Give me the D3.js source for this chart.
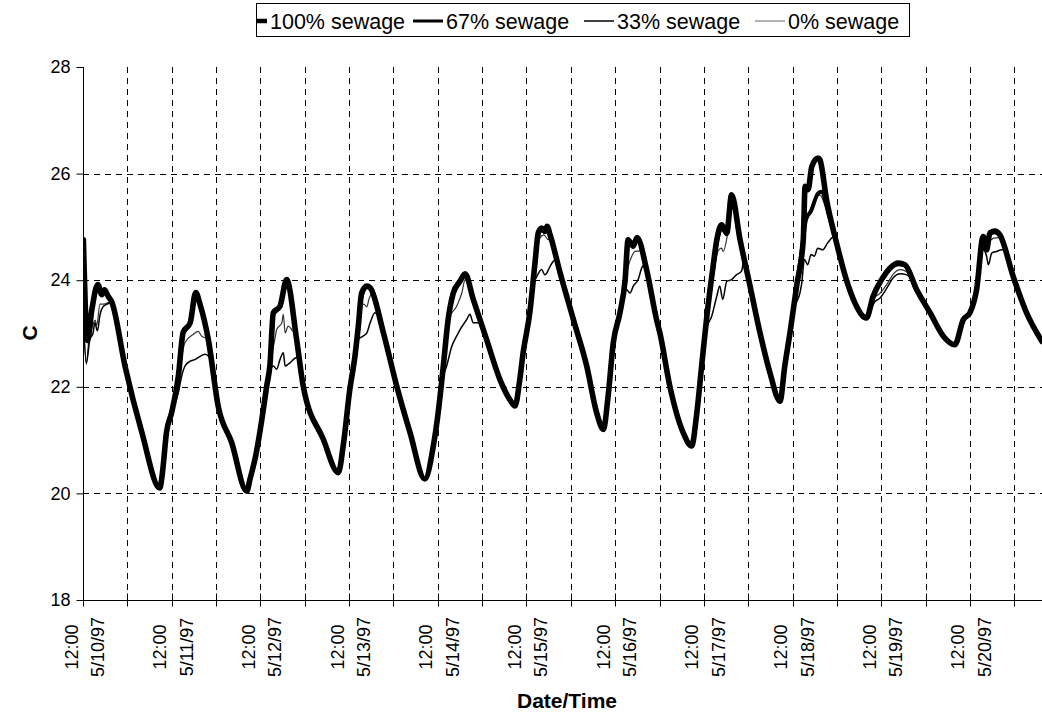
<!DOCTYPE html>
<html>
<head>
<meta charset="utf-8">
<script src="https://cdn.jsdelivr.net/npm/d3@7"></script>
<style>
  body { margin: 0; background: #fff; }
  text { font-family: "Liberation Sans", Arial, sans-serif; fill: #000; }
</style>
</head>
<body>
<svg id="chart" width="1042" height="715"></svg>
<script>
// Water temperature (C) at four sewage mixes, hours after 5/10/97 12:00.
const seriesNames = ["100% sewage", "67% sewage", "33% sewage", "0% sewage"];

const sewage100 = [[0.1,24.76],[1.2,22.87],[2.4,23.45],[4.0,23.92],[5.1,23.73],[5.8,23.82],[6.8,23.70],[7.8,23.59],[11.4,22.38],[15.9,21.15],[20.8,20.10],[21.5,20.39],[22.6,21.15],[24.0,21.52],[25.8,22.20],[27.1,23.02],[29.0,23.20],[30.5,23.77],[31.7,23.54],[33.9,22.89],[36.6,21.63],[40.2,20.96],[44.3,20.04],[45.2,20.27],[46.8,20.73],[48.4,21.39],[49.7,22.01],[50.6,22.42],[51.5,23.39],[53.3,23.51],[55.1,24.01],[57.8,22.89],[59.6,22.01],[65.0,21.02],[69.1,20.39],[70.4,20.89],[72.2,21.95],[73.6,22.58],[74.5,23.14],[75.4,23.76],[76.8,23.89],[77.7,23.86],[81.3,23.01],[84.9,22.01],[88.5,21.14],[92.5,20.27],[94.8,20.89],[96.1,21.51],[97.5,22.39],[98.8,23.26],[100.2,23.76],[102.0,23.98],[103.4,24.12],[105.6,23.64],[109.2,22.89],[112.8,22.14],[115.5,21.76],[116.9,21.64],[118.2,22.14],[119.1,22.64],[120.9,23.39],[122.3,24.32],[123.2,24.89],[124.1,24.98],[125.0,24.92],[125.6,25.01],[126.4,24.85],[129.1,24.14],[132.7,23.26],[136.3,22.39],[139.0,21.51],[140.8,21.20],[142.1,21.83],[143.5,22.83],[145.3,23.39],[146.7,24.01],[147.5,24.76],[148.9,24.64],[149.9,24.80],[152.5,24.20],[155.2,23.26],[156.1,23.01],[158.8,22.01],[162.4,21.14],[164.7,20.89],[166.0,21.45],[167.4,22.39],[168.8,23.32],[170.5,24.26],[171.5,24.76],[172.8,25.04],[174.2,24.89],[175.5,25.60],[177.8,24.76],[180.5,23.89],[183.2,23.01],[185.9,22.26],[188.6,21.73],[189.9,22.39],[191.3,23.01],[193.1,23.89],[194.9,24.76],[195.4,25.76],[196.2,25.70],[197.2,26.13],[198.9,26.29],[199.4,26.26],[201.2,25.51],[203.9,24.70],[206.6,24.00],[208.9,23.57],[212.0,23.29],[213.8,23.70],[216.1,24.01],[218.4,24.23],[220.6,24.32],[222.4,24.29],[225.6,23.82],[229.2,23.39],[232.8,22.95],[235.9,22.79],[238.2,23.26],[240.0,23.39],[241.8,23.82],[243.6,24.82],[244.5,24.57],[245.4,24.89],[246.8,24.92],[248.1,24.85],[251.7,24.07],[255.3,23.39],[259.5,22.85]];

const sewage67 = [[0.1,23.40],[1.2,22.87],[2.4,23.45],[4.0,23.90],[5.1,23.73],[5.8,23.80],[6.8,23.70],[7.8,23.59],[11.4,22.38],[15.9,21.15],[20.8,20.10],[21.5,20.39],[22.6,21.15],[24.0,21.52],[25.8,22.20],[27.1,23.02],[29.0,23.20],[30.5,23.75],[31.7,23.54],[33.9,22.89],[36.6,21.63],[40.2,20.96],[44.3,20.04],[45.2,20.27],[46.8,20.73],[48.4,21.39],[49.7,22.01],[50.6,22.42],[51.5,23.35],[53.3,23.51],[55.1,24.00],[57.8,22.89],[59.6,22.01],[65.0,21.02],[69.1,20.39],[70.4,20.89],[72.2,21.95],[73.6,22.58],[74.5,23.14],[75.4,23.70],[76.8,23.87],[77.7,23.86],[81.3,23.01],[84.9,22.01],[88.5,21.14],[92.5,20.27],[94.8,20.89],[96.1,21.51],[97.5,22.39],[98.8,23.26],[100.2,23.74],[102.0,23.96],[103.4,24.10],[105.6,23.64],[109.2,22.89],[112.8,22.14],[115.5,21.76],[116.9,21.64],[118.2,22.14],[119.1,22.64],[120.9,23.39],[122.3,24.30],[123.2,24.85],[124.1,24.95],[125.0,24.90],[125.6,24.98],[126.4,24.85],[129.1,24.14],[132.7,23.26],[136.3,22.39],[139.0,21.51],[140.8,21.20],[142.1,21.83],[143.5,22.83],[145.3,23.39],[146.7,24.01],[147.5,24.72],[148.9,24.64],[149.9,24.78],[152.5,24.20],[155.2,23.26],[156.1,23.01],[158.8,22.01],[162.4,21.14],[164.7,20.89],[166.0,21.45],[167.4,22.39],[168.8,23.32],[170.5,24.22],[171.5,24.70],[172.8,24.98],[174.2,24.86],[175.5,25.55],[177.8,24.76],[180.5,23.89],[183.2,23.01],[185.9,22.26],[188.6,21.73],[189.9,22.39],[191.3,23.01],[193.1,23.89],[194.9,24.76],[195.6,25.13],[197.0,25.30],[198.9,25.63],[199.8,25.66],[201.9,25.20],[203.9,24.70],[206.6,24.00],[208.9,23.57],[212.0,23.29],[213.8,23.70],[216.1,24.01],[218.4,24.23],[220.6,24.30],[222.4,24.29],[225.6,23.82],[229.2,23.39],[232.8,22.95],[235.9,22.79],[238.2,23.26],[240.0,23.39],[241.8,23.82],[243.6,24.80],[244.5,24.57],[245.4,24.87],[246.8,24.90],[248.1,24.85],[251.7,24.07],[255.3,23.39],[259.5,22.85]];

const sewage33 = [[0.1,23.30],[0.9,22.45],[1.9,22.90],[2.7,23.00],[3.2,23.20],[3.9,23.05],[4.6,23.35],[5.4,23.50],[6.5,23.55],[7.7,23.58],[11.4,22.38],[15.9,21.15],[20.8,20.10],[21.5,20.39],[22.6,21.15],[24.0,21.52],[25.8,21.89],[26.7,22.20],[27.6,22.39],[29.0,22.48],[30.3,22.51],[31.7,22.57],[33.0,22.61],[34.6,22.50],[36.6,21.63],[40.2,20.96],[44.3,20.04],[45.2,20.27],[46.8,20.73],[48.4,21.39],[49.7,22.01],[51.5,22.39],[52.4,22.33],[53.3,22.51],[54.2,22.64],[54.7,22.39],[56.0,22.45],[57.8,22.55],[58.7,22.45],[59.6,22.01],[65.0,21.02],[69.1,20.39],[70.4,20.89],[72.2,21.95],[73.6,22.58],[74.5,22.89],[75.8,22.95],[76.8,23.01],[77.7,23.20],[79.0,23.39],[79.8,23.35],[81.3,23.01],[84.9,22.01],[88.5,21.14],[92.5,20.27],[94.8,20.89],[96.1,21.51],[97.5,22.20],[98.4,22.39],[99.8,22.76],[101.1,22.95],[102.0,23.07],[103.8,23.26],[104.7,23.36],[105.6,23.20],[107.4,23.20],[108.8,23.00],[109.2,22.89],[112.8,22.14],[115.5,21.76],[116.9,21.64],[118.2,22.14],[119.1,22.64],[120.9,23.39],[121.4,23.82],[122.8,24.07],[124.1,24.20],[125.0,24.10],[126.4,24.26],[127.2,24.35],[128.0,24.40],[129.1,24.14],[132.7,23.26],[136.3,22.39],[139.0,21.51],[140.8,21.20],[142.1,21.83],[143.5,22.83],[145.3,23.39],[147.1,23.82],[148.0,23.76],[148.9,23.89],[150.2,24.01],[151.2,24.23],[152.1,24.30],[152.5,24.20],[155.2,23.26],[156.1,23.01],[158.8,22.01],[162.4,21.14],[164.7,20.89],[166.0,21.45],[167.4,22.39],[168.8,23.10],[170.1,23.32],[171.5,23.70],[172.3,23.89],[173.1,23.64],[174.2,23.98],[175.5,24.01],[176.8,24.10],[178.2,24.17],[178.8,24.35],[180.5,23.89],[183.2,23.01],[185.9,22.26],[188.6,21.73],[189.9,22.39],[191.3,23.01],[192.6,23.50],[194.0,23.76],[194.5,23.95],[195.2,24.39],[196.1,24.29],[197.0,24.48],[197.9,24.45],[198.8,24.60],[200.2,24.57],[201.5,24.70],[203.3,24.82],[203.9,24.70],[206.6,24.00],[208.9,23.57],[212.0,23.29],[214.3,23.60],[215.6,23.66],[217.5,23.85],[219.3,24.05],[221.1,24.12],[222.9,24.10],[224.3,24.00],[225.6,23.82],[229.2,23.39],[232.8,22.95],[235.9,22.79],[238.2,23.26],[240.0,23.39],[241.8,23.82],[243.6,24.57],[244.5,24.45],[245.0,24.29],[245.9,24.51],[247.2,24.54],[248.6,24.57],[249.5,24.55],[251.7,24.07],[255.3,23.39],[259.5,22.85]];

const sewage0 = [[0.1,23.30],[0.9,22.42],[1.6,22.90],[2.4,23.10],[3.3,23.25],[3.7,23.15],[4.6,23.55],[5.7,23.55],[6.8,23.58],[7.8,23.59],[11.4,22.38],[15.9,21.15],[20.8,20.10],[21.5,20.39],[22.6,21.15],[24.0,21.52],[25.8,22.20],[27.6,22.83],[29.8,22.98],[31.2,23.04],[32.1,22.95],[33.9,22.89],[36.6,21.63],[40.2,20.96],[44.3,20.04],[45.2,20.27],[46.8,20.73],[48.4,21.39],[49.7,22.01],[50.6,22.42],[51.9,22.89],[52.4,23.07],[53.8,23.20],[54.2,23.36],[54.7,23.01],[55.5,23.14],[56.5,23.07],[57.6,22.95],[59.6,22.01],[65.0,21.02],[69.1,20.39],[70.4,20.89],[72.2,21.95],[73.6,22.58],[74.5,23.14],[74.9,23.40],[76.0,23.55],[76.8,23.50],[77.4,23.65],[78.2,23.75],[81.3,23.01],[84.9,22.01],[88.5,21.14],[92.5,20.27],[94.8,20.89],[96.1,21.51],[97.5,22.39],[98.8,23.26],[101.1,23.51],[102.5,23.76],[103.4,24.01],[105.6,23.64],[109.2,22.89],[112.8,22.14],[115.5,21.76],[116.9,21.64],[118.2,22.14],[119.1,22.64],[120.9,23.39],[122.3,24.32],[123.6,24.79],[124.7,24.85],[125.9,24.76],[126.4,24.80],[129.1,24.14],[132.7,23.26],[136.3,22.39],[139.0,21.51],[140.8,21.20],[142.1,21.83],[143.5,22.83],[145.3,23.39],[146.7,24.01],[148.5,24.45],[149.4,24.54],[150.9,24.55],[152.5,24.20],[155.2,23.26],[156.1,23.01],[158.8,22.01],[162.4,21.14],[164.7,20.89],[166.0,21.45],[167.4,22.39],[168.8,23.32],[170.5,24.10],[172.0,24.57],[172.8,24.60],[173.2,24.54],[174.5,24.90],[175.5,25.40],[176.4,25.25],[177.8,24.76],[180.5,23.89],[183.2,23.01],[185.9,22.26],[188.6,21.73],[189.9,22.39],[191.3,23.01],[193.1,23.89],[194.9,24.76],[195.8,25.10],[197.6,25.45],[199.4,25.60],[200.8,25.40],[202.1,25.15],[203.9,24.70],[206.6,24.00],[208.9,23.57],[212.0,23.29],[213.8,23.65],[215.6,23.75],[217.5,23.92],[219.3,24.12],[221.1,24.20],[222.9,24.16],[224.3,24.00],[225.6,23.82],[229.2,23.39],[232.8,22.95],[235.9,22.79],[238.2,23.26],[240.0,23.39],[241.8,23.82],[243.6,24.70],[244.5,24.70],[246.4,24.79],[248.1,24.80],[251.7,24.07],[255.3,23.39],[259.5,22.85]];

const yTicks = [18, 20, 22, 24, 26, 28];
const dayLabels = ["5/10/97", "5/11/97", "5/12/97", "5/13/97", "5/14/97", "5/15/97",
                   "5/16/97", "5/17/97", "5/18/97", "5/19/97", "5/20/97"];
const timeLabel = "12:00";

// Layout
const plot = { left: 83, right: 1042, top: 67, bottom: 600 };

const svg = d3.select("#chart");

const x = d3.scaleLinear().domain([0, 259.5]).range([plot.left, plot.right]);
const y = d3.scaleLinear().domain([18, 28]).range([plot.bottom, plot.top]);

const halfDayTicks = d3.range(0, 259.5, 12);

// Dashed gridlines
const grid = svg.append("g");
grid.selectAll("line.v").data(halfDayTicks.filter(h => h > 0)).join("line")
  .attr("x1", d => Math.round(x(d)) + 0.5).attr("x2", d => Math.round(x(d)) + 0.5)
  .attr("y1", plot.top).attr("y2", plot.bottom)
  .attr("stroke", "#000").attr("stroke-width", 1).attr("stroke-dasharray", "6,5");
grid.selectAll("line.h").data(yTicks.filter(v => v > 18 && v < 28)).join("line")
  .attr("x1", plot.left).attr("x2", plot.right)
  .attr("y1", d => Math.round(y(d)) + 0.5).attr("y2", d => Math.round(y(d)) + 0.5)
  .attr("stroke", "#000").attr("stroke-width", 1).attr("stroke-dasharray", "6,5");

// Series lines
svg.append("clipPath").attr("id", "plotClip").append("rect")
  .attr("x", plot.left).attr("y", plot.top - 10)
  .attr("width", plot.right - plot.left).attr("height", plot.bottom - plot.top + 10);

const line = d3.line().x(d => x(d[0])).y(d => y(d[1])).curve(d3.curveMonotoneX);

const series = [
  { name: seriesNames[3], data: sewage0,   width: 1.2, color: "#333" },
  { name: seriesNames[2], data: sewage33,  width: 1.5, color: "#000" },
  { name: seriesNames[1], data: sewage67,  width: 4,   color: "#000" },
  { name: seriesNames[0], data: sewage100, width: 5.6, color: "#000" }
];

const lines = svg.append("g").attr("clip-path", "url(#plotClip)");
lines.selectAll("path").data(series).join("path")
  .attr("d", d => line(d.data))
  .attr("fill", "none")
  .attr("stroke", d => d.color)
  .attr("stroke-width", d => d.width)
  .attr("stroke-linejoin", "round")
  .attr("stroke-linecap", "round");

// Y axis
const yAxis = svg.append("g").attr("transform", `translate(${plot.left + 0.5},0)`)
  .call(d3.axisLeft(y).tickValues(yTicks).tickSize(7).tickPadding(6).tickFormat(d3.format("d")));
yAxis.select(".domain").attr("stroke", "#000").attr("d", `M0,${plot.top}V${plot.bottom}`);
yAxis.selectAll(".tick line").attr("stroke", "#000");
yAxis.selectAll(".tick text").attr("font-size", 18).attr("fill", "#000")
  .attr("font-family", "Liberation Sans, Arial, sans-serif");

// X axis with crossing tick marks
const xAxis = svg.append("g").attr("transform", `translate(0,${plot.bottom + 0.5})`);
xAxis.append("line").attr("x1", plot.left).attr("x2", plot.right)
  .attr("stroke", "#000");
xAxis.selectAll("line.tick").data(halfDayTicks).join("line")
  .attr("class", "tick")
  .attr("x1", d => Math.round(x(d)) + 0.5).attr("x2", d => Math.round(x(d)) + 0.5)
  .attr("y1", -7).attr("y2", 6)
  .attr("stroke", "#000");

// Two-line rotated date labels at each day's noon
const labelData = dayLabels.map((lab, i) => ({ hour: i * 24, day: lab }));
const labelG = svg.append("g").selectAll("g").data(labelData).join("g")
  .attr("transform", d => `translate(${x(d.hour)},647) rotate(-90)`);
labelG.append("text").attr("text-anchor", "middle").attr("y", -5.5)
  .attr("font-size", 18).text(timeLabel);
labelG.append("text").attr("text-anchor", "middle").attr("y", 21)
  .attr("font-size", 18).text(d => d.day);

// Axis titles
svg.append("text").attr("x", 567).attr("y", 708).attr("text-anchor", "middle")
  .attr("font-size", 21).attr("font-weight", "bold").text("Date/Time");
svg.append("text").attr("transform", "translate(37,333) rotate(-90)")
  .attr("text-anchor", "middle").attr("font-size", 21).attr("font-weight", "bold").text("C");

// Legend
const legendBox = { x: 256.5, y: 3.5, w: 653, h: 33 };
svg.append("clipPath").attr("id", "legendClip").append("rect")
  .attr("x", legendBox.x).attr("y", legendBox.y).attr("width", legendBox.w).attr("height", legendBox.h);
const legend = svg.append("g");
legend.append("rect").attr("x", legendBox.x).attr("y", legendBox.y)
  .attr("width", legendBox.w).attr("height", legendBox.h)
  .attr("fill", "#fff").attr("stroke", "#000").attr("stroke-width", 1);

const legendItems = [
  { name: seriesNames[0], width: 4.5, color: "#000", x0: 237 },
  { name: seriesNames[1], width: 3,   color: "#000", x0: 413 },
  { name: seriesNames[2], width: 1.4, color: "#000", x0: 584 },
  { name: seriesNames[3], width: 1.1, color: "#666", x0: 755 }
];
const li = legend.append("g").attr("clip-path", "url(#legendClip)")
  .selectAll("g").data(legendItems).join("g");
li.append("line")
  .attr("x1", d => d.x0).attr("x2", d => d.x0 + 30)
  .attr("y1", 21).attr("y2", 21)
  .attr("stroke", d => d.color).attr("stroke-width", d => d.width);
li.append("text")
  .attr("x", d => d.x0 + 33).attr("y", 29)
  .attr("font-size", 21.5).text(d => d.name);
</script>
</body>
</html>
